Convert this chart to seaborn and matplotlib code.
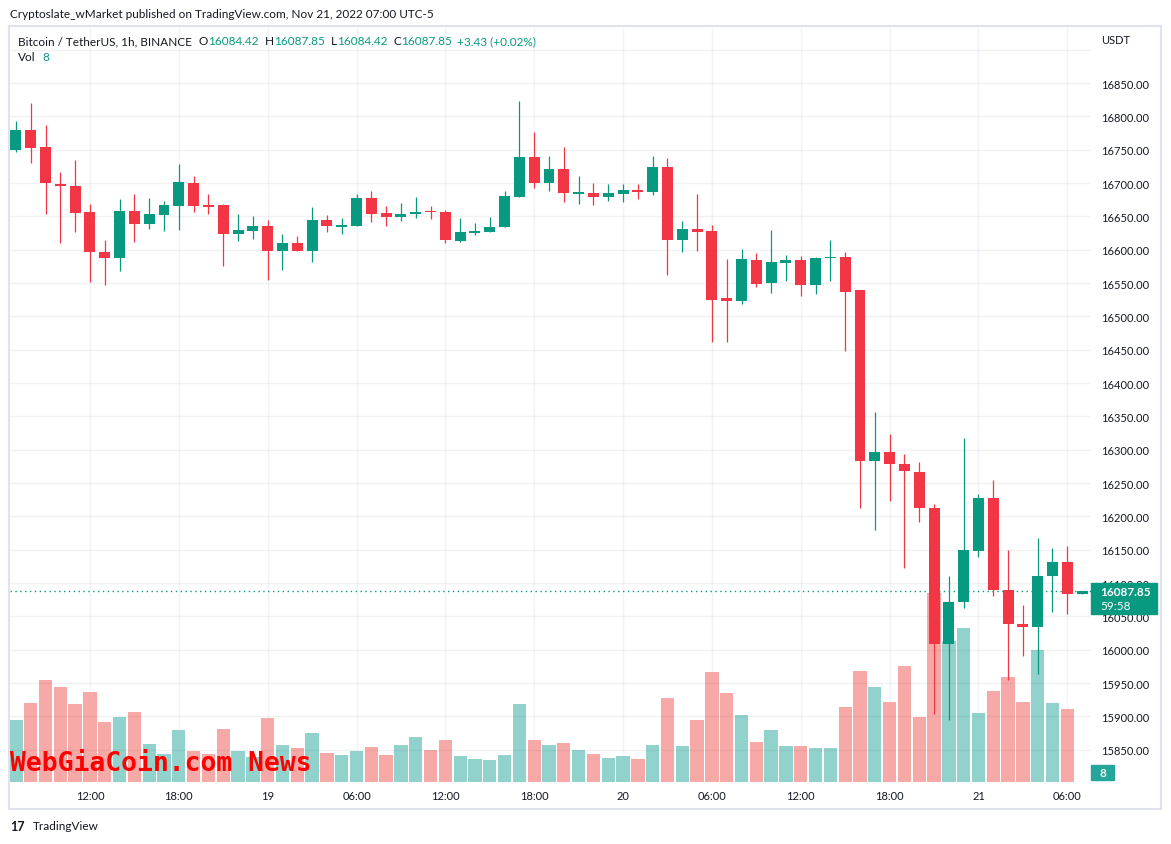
import numpy as np
import pandas as pd
import seaborn as sns
import matplotlib.pyplot as plt
from matplotlib.patches import Rectangle
from matplotlib import transforms

# hourly BTC/USDT candles, Nov 18 07:00 -> Nov 21 07:00
opens = [16750, 16779, 16754, 16698, 16695, 16656, 16596, 16588, 16658, 16639,
         16652, 16666, 16700, 16666, 16667, 16624, 16628, 16635, 16598, 16610,
         16598, 16645, 16634, 16636, 16677, 16655, 16649, 16653, 16657, 16657,
         16613, 16625, 16626, 16634, 16679, 16739, 16700, 16721, 16684, 16685,
         16679, 16684, 16689, 16686, 16724, 16615, 16631, 16628, 16527, 16523,
         16584, 16550, 16580, 16584, 16547, 16587, 16589, 16539, 16283, 16296,
         16279, 16267, 16213, 16008, 16071, 16148, 16227, 16090, 16039, 16034,
         16110, 16131, 16084.42]
highs = [16793, 16820, 16787, 16716, 16734, 16668, 16614, 16676, 16683, 16677,
         16673, 16728, 16711, 16683, 16668, 16653, 16651, 16645, 16623, 16620,
         16664, 16652, 16648, 16683, 16688, 16665, 16670, 16679, 16666, 16660,
         16648, 16640, 16649, 16688, 16823, 16776, 16741, 16754, 16710, 16700,
         16698, 16698, 16698, 16741, 16737, 16643, 16683, 16637, 16586, 16601,
         16595, 16629, 16592, 16590, 16589, 16614, 16596, 16540, 16357, 16324,
         16294, 16282, 16219, 16110, 16318, 16234, 16255, 16149, 16067, 16168,
         16153, 16155, 16087.85]
lows = [16747, 16730, 16653, 16610, 16626, 16552, 16547, 16568, 16611, 16631,
        16628, 16629, 16657, 16653, 16576, 16613, 16616, 16555, 16570, 16598,
        16582, 16627, 16624, 16635, 16642, 16636, 16643, 16648, 16646, 16610,
        16611, 16622, 16626, 16634, 16679, 16692, 16688, 16671, 16668, 16667,
        16673, 16672, 16676, 16682, 16562, 16596, 16598, 16462, 16461, 16518,
        16544, 16535, 16553, 16530, 16533, 16553, 16448, 16212, 16179, 16223,
        16122, 16191, 15904, 15895, 16063, 16139, 16081, 15955, 15991, 15963,
        16057, 16054, 16084.42]
closes = [16779, 16752, 16700, 16696, 16655, 16597, 16588, 16658, 16639, 16654,
          16667, 16701, 16665, 16664, 16624, 16629, 16635, 16598, 16610, 16598,
          16645, 16635, 16637, 16677, 16654, 16649, 16654, 16657, 16656, 16615,
          16626, 16628, 16634, 16680, 16739, 16700, 16721, 16685, 16686, 16679,
          16685, 16689, 16686, 16724, 16614, 16631, 16627, 16524, 16523, 16586,
          16548, 16581, 16584, 16547, 16587, 16589, 16537, 16283, 16296, 16278,
          16268, 16212, 16008, 16072, 16149, 16227, 16089, 16038, 16034, 16111,
          16131, 16084, 16087.85]
volumes = [15500, 19750, 25500, 23750, 19500, 22500, 15000, 16250, 17500, 9500,
           7000, 13000, 7750, 7000, 13250, 7750, 6250, 16000, 9250, 8500,
           12250, 7250, 6750, 7750, 8750, 6750, 9250, 11250, 8000, 10500,
           6500, 5750, 5500, 6750, 19500, 10500, 9250, 9750, 8000, 7000,
           6000, 6500, 5750, 9250, 21000, 9000, 15500, 27500, 22250, 16750,
           10000, 13000, 9000, 9000, 8500, 8500, 18750, 27750, 23750, 20000,
           29000, 16250, 47250, 35250, 38500, 17250, 22750, 26250, 20000, 33000,
           19750, 18250, 8]

tick_pos = [5, 11, 17, 23, 29, 35, 41, 47, 53, 59, 65, 71]
tick_labels = ['12:00', '18:00', '19', '06:00', '12:00', '18:00', '20',
               '06:00', '12:00', '18:00', '21', '06:00']
price_ticks = np.arange(15850, 16901, 50)

df = pd.DataFrame({'idx': np.arange(len(opens)), 'open': opens, 'high': highs,
                   'low': lows, 'close': closes, 'volume': volumes})
df['up'] = df['close'] >= df['open']

GREEN, RED = '#089981', '#f23645'
TXT = '#131722'

sns.set_theme(style='white')
plt.rcParams['font.family'] = ['Lato', 'DejaVu Sans']

W, H = 1171, 845
fig = plt.figure(figsize=(W / 100, H / 100), dpi=100)
fig.patch.set_facecolor('white')
L, R, T, B = 10, 1091, 29, 783
ax_vol = fig.add_axes([L / W, 1 - B / H, (R - L) / W, (B - T) / H])
ax = ax_vol.twinx()

# volume overlay
sns.barplot(data=df, x='idx', y='volume', hue='up',
            palette={True: '#92d2cc', False: '#f7a9a7'}, native_scale=True,
            width=0.9, dodge=False, errorbar=None, legend=False,
            saturation=1, linewidth=0, ax=ax_vol)
ax_vol.set_ylim(0, (B - T) * 250)
ax_vol.set_yticks([])
ax_vol.set_xlim(-0.4, 72.6)
ax_vol.set_xticks(tick_pos, tick_labels)
ax_vol.grid(axis='x', color='#f0f3fa', lw=1)
ax_vol.tick_params(axis='x', length=0, pad=6, labelsize=8, labelcolor=TXT)
ax_vol.set_xlabel('')
ax_vol.set_ylabel('')

# candles
colors = np.where(df['up'], GREEN, RED)
body_lo = np.minimum(df['open'], df['close'])
body_h = np.maximum(np.abs(df['close'] - df['open']), 2.5)
ax.vlines(df['idx'], df['low'], df['high'], colors=colors, lw=0.9, zorder=3)
ax.bar(df['idx'], body_h, bottom=body_lo, width=0.74, color=colors, lw=0,
       zorder=4)
ax.set_xlim(-0.4, 72.6)
ax.set_ylim(15801.7, 16932.7)
ax.set_yticks(price_ticks,
              ['' if p == 16900 else f'{p:.2f}' for p in price_ticks])
ax.grid(axis='y', color='#2a2e39', alpha=0.06, lw=1)
ax.tick_params(axis='y', length=0, pad=7, labelsize=8, labelcolor=TXT)
ax.set_ylabel('')

for a in (ax, ax_vol):
    for s in a.spines.values():
        s.set_visible(False)

# last price line + labels
last = closes[-1]
ax.axhline(last, color=GREEN, lw=1, ls=(0, (1, 2.5)), zorder=2)
blend = transforms.blended_transform_factory(ax.transAxes, ax.transData)
ax.add_patch(Rectangle((1.0, last - 23 * 1.502), 66 / (R - L), 31 * 1.502,
                       transform=blend, color=GREEN, clip_on=False, zorder=10))
ax.text(1.0 + 9 / (R - L), last, '16087.85', transform=blend, color='white',
        fontsize=8.5, weight='bold', va='center', clip_on=False, zorder=11)
ax.text(1.0 + 9 / (R - L), last - 14 * 1.502, '59:58', transform=blend,
        color='white', fontsize=8.5, va='center', clip_on=False, zorder=11)
vblend = transforms.blended_transform_factory(ax_vol.transAxes, ax_vol.transData)
ax_vol.add_patch(Rectangle((1.0, 500), 23 / (R - L), 3750, transform=vblend,
                           color='#26a69a', clip_on=False, zorder=10))
fig.text((1091 + 11.5) / W, 1 - 774 / H, '8', color='white', fontsize=8.5,
         weight='bold', ha='center', va='center', zorder=12)

# header texts
fig.text(10 / W, 1 - 14 / H, 'Cryptoslate_wMarket published on TradingView.com, '
         'Nov 21, 2022 07:00 UTC-5', color=TXT, fontsize=8.5, va='center')
fig.text(1101 / W, 1 - 40 / H, 'USDT', color=TXT, fontsize=8, va='center')

segs = [('Bitcoin / TetherUS, 1h, BINANCE', TXT, 0), ('O', TXT, 7),
        ('16084.42', GREEN, 0), ('H', TXT, 6), ('16087.85', GREEN, 0),
        ('L', TXT, 6), ('16084.42', GREEN, 0), ('C', TXT, 6),
        ('16087.85', GREEN, 0), ('+3.43 (+0.02%)', GREEN, 5)]
prev = None
for s, c, gap in segs:
    if prev is None:
        prev = ax.annotate(s, xy=(18, H - 42), xycoords='figure pixels',
                           color=c, fontsize=8.5, va='center')
    else:
        prev = ax.annotate(s, xy=(1, 0), xycoords=prev, xytext=(gap, 0),
                           textcoords='offset pixels', color=c, fontsize=8.5,
                           va='bottom')
vol_t = ax.annotate('Vol', xy=(18, H - 58), xycoords='figure pixels',
                    color=TXT, fontsize=8.5, va='center')
ax.annotate('8', xy=(1, 0), xycoords=vol_t, xytext=(7, 0),
            textcoords='offset pixels', color=GREEN, fontsize=8.5, va='bottom')

# watermark
fig.text(10 / W, 1 - 764 / H, 'WebGiaCoin.com News', color='#ff0000',
         fontsize=19, weight='bold', family='DejaVu Sans Mono', va='center',
         zorder=12)

# outer frame + footer
fig.add_artist(Rectangle((9 / W, 1 - 810 / H), (1161 - 9) / W, (810 - 27) / H,
                         transform=fig.transFigure, fill=False,
                         edgecolor='#e0e3eb', lw=1.5, zorder=1))
fig.text(10 / W, 1 - 827 / H, '17', color=TXT, fontsize=9, weight='bold',
         va='center')
fig.text(33 / W, 1 - 827 / H, 'TradingView', color=TXT, fontsize=8.5,
         va='center')

fig.savefig('out.png', dpi=100)
